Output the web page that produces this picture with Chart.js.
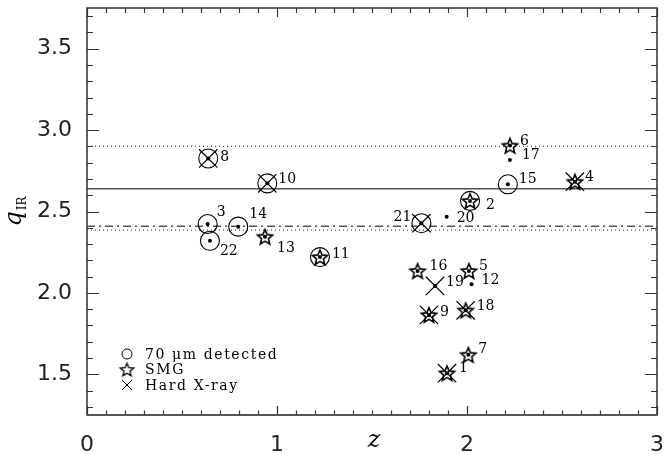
<!DOCTYPE html>
<html>
<head>
<meta charset="utf-8">
<script src="https://cdn.jsdelivr.net/npm/chart.js@4/dist/chart.umd.min.js"></script>
<style>
  html, body { margin: 0; padding: 0; background: #fff; }
  canvas { display: block; }
</style>
</head>
<body>
<canvas id="c" width="666" height="454"></canvas>
<script>
// ---- data ----
const sourceIds = [1, 2, 3, 4, 5, 6, 7, 8, 9, 10, 11, 12, 13, 14, 15, 16, 17, 18, 19, 20, 21, 22];
const redshift  = [1.895, 2.016, 0.635, 2.568, 2.010, 2.226, 2.007, 0.638, 1.800, 0.949, 1.226, 2.024, 0.937, 0.796, 2.215, 1.740, 2.226, 1.993, 1.832, 1.893, 1.760, 0.647];
const qIR       = [1.507, 2.565, 2.423, 2.683, 2.135, 2.905, 1.620, 2.826, 1.865, 2.673, 2.220, 2.053, 2.345, 2.407, 2.667, 2.135, 2.816, 1.893, 2.043, 2.468, 2.428, 2.320];
const detected70um = [0, 1, 1, 0, 0, 0, 0, 1, 0, 1, 1, 0, 0, 1, 1, 0, 0, 0, 0, 0, 1, 1];
const isSMG        = [1, 1, 0, 1, 1, 1, 1, 0, 1, 0, 1, 0, 1, 0, 0, 1, 0, 1, 0, 0, 0, 0];
const isHardXray   = [1, 0, 0, 1, 0, 0, 0, 1, 1, 1, 0, 0, 0, 0, 0, 0, 0, 1, 1, 0, 1, 0];
const refLineValues = [2.90, 2.64, 2.41, 2.385];
const xTickValues = [0, 1, 2, 3];
const yTickValues = [1.5, 2.0, 2.5, 3.0, 3.5];
const legendLabels = ["70 \u03bcm detected", "SMG", "Hard X-ray"];

// ---- styling (not data) ----
const labelOffsets = {
  1: [12, -5], 2: [16, 4], 3: [9, -12], 4: [10, -4], 5: [10, -5], 6: [10, -4],
  7: [10, -5], 8: [12, -1], 9: [11, -3], 10: [11, -4], 11: [12, -3], 12: [10, -4],
  13: [12, 12], 14: [11, -12], 15: [11, -5], 16: [12, -5], 17: [12, -5], 18: [11, -4],
  19: [11, -4], 20: [10, 2], 21: [-10, -6], 22: [10, 11]
};
const refLineStyles = [
  { dash: [1, 3], width: 1.2, color: '#555' },
  { dash: [], width: 1.5, color: '#555' },
  { dash: [8, 4, 2, 4], width: 1.5, color: '#555' },
  { dash: [1, 3], width: 1.2, color: '#555' }
];

function makeStar(outer, inner, lw) {
  const s = Math.ceil(outer * 2 + lw * 2 + 2);
  const c = document.createElement('canvas');
  c.width = s; c.height = s;
  const g = c.getContext('2d');
  g.translate(s / 2, s / 2 + outer * 0.1);
  g.beginPath();
  for (let k = 0; k < 10; k++) {
    const r = k % 2 === 0 ? outer : inner;
    const a = -Math.PI / 2 + k * Math.PI / 5;
    const px = r * Math.cos(a), py = r * Math.sin(a);
    if (k === 0) g.moveTo(px, py); else g.lineTo(px, py);
  }
  g.closePath();
  g.lineWidth = lw;
  g.strokeStyle = '#000';
  g.stroke();
  return c;
}
const starImg = makeStar(8, 3.6, 1.6);
const starLegendImg = makeStar(7, 3.1, 1.3);

function pts(filter) {
  const out = [];
  for (let i = 0; i < sourceIds.length; i++) {
    if (!filter || filter[i]) out.push({ x: redshift[i], y: qIR[i] });
  }
  return out;
}

const datasets = [
  { label: 'dot', data: pts(null), pointStyle: 'circle', pointRadius: 2,
    backgroundColor: '#000', borderColor: '#000', borderWidth: 0, showLine: false, order: 0 },
  { label: '70um', data: pts(detected70um), pointStyle: 'circle', pointRadius: 9.5,
    backgroundColor: 'rgba(0,0,0,0)', borderColor: '#000', borderWidth: 1.1, showLine: false, order: 1 },
  { label: 'SMG', data: pts(isSMG), pointStyle: starImg, pointRadius: 8,
    backgroundColor: '#000', borderColor: '#000', showLine: false, order: 1 },
  { label: 'X', data: pts(isHardXray), pointStyle: 'crossRot', pointRadius: 13,
    backgroundColor: '#000', borderColor: '#000', borderWidth: 1.2, showLine: false, order: 1 }
];
refLineValues.forEach((v, k) => {
  datasets.push({
    label: 'ref' + k, type: 'line',
    data: [{ x: 0, y: v }, { x: 3, y: v }],
    borderColor: refLineStyles[k].color, borderWidth: refLineStyles[k].width,
    borderDash: refLineStyles[k].dash, pointRadius: 0, fill: false, order: 5
  });
});

const decorPlugin = {
  id: 'decor',
  beforeDatasetsDraw(chart) {
    const ctx = chart.ctx, a = chart.chartArea;
    const xs = chart.scales.x, ys = chart.scales.y;
    ctx.save();
    ctx.strokeStyle = '#333';
    ctx.lineWidth = 1.2;
    for (let i = 0; i <= 30; i++) {
      const px = Math.round(xs.getPixelForValue(i / 10)) + 0.5;
      const major = i % 10 === 0;
      const lb = major ? 9 : 4.5, lt = major ? 9 : 5;
      ctx.beginPath();
      ctx.moveTo(px, a.bottom); ctx.lineTo(px, a.bottom - lb);
      ctx.moveTo(px, a.top); ctx.lineTo(px, a.top + lt);
      ctx.stroke();
    }
    for (let i = 13; i <= 37; i++) {
      const py = Math.round(ys.getPixelForValue(i / 10)) + 0.5;
      const major = i % 5 === 0;
      const l = major ? 12 : 6;
      ctx.beginPath();
      ctx.moveTo(a.left, py); ctx.lineTo(a.left + l, py);
      ctx.moveTo(a.right, py); ctx.lineTo(a.right - l, py);
      ctx.stroke();
    }
    ctx.restore();
  },
  afterDatasetsDraw(chart) {
    const ctx = chart.ctx, a = chart.chartArea;
    const xs = chart.scales.x, ys = chart.scales.y;
    ctx.save();
    ctx.strokeStyle = '#333';
    ctx.lineWidth = 1.5;
    ctx.strokeRect(a.left, a.top, a.right - a.left, a.bottom - a.top);
    ctx.strokeStyle = '#555';
    ctx.lineWidth = 2;
    ctx.beginPath(); ctx.moveTo(a.left, a.bottom); ctx.lineTo(a.right, a.bottom); ctx.stroke();

    ctx.fillStyle = '#000';
    ctx.font = '14px "DejaVu Serif"';
    ctx.textBaseline = 'middle';
    for (let i = 0; i < sourceIds.length; i++) {
      const id = sourceIds[i];
      const off = labelOffsets[id];
      const px = xs.getPixelForValue(redshift[i]) + off[0];
      const py = ys.getPixelForValue(qIR[i]) + off[1];
      ctx.textAlign = off[0] < 0 ? 'right' : 'left';
      ctx.fillText(String(id), px, py);
    }

    const lx = a.left + 40, ly0 = a.bottom - 61, dy = 15.5;
    ctx.strokeStyle = '#000';
    ctx.lineWidth = 1;
    ctx.beginPath(); ctx.arc(lx, ly0, 5, 0, Math.PI * 2); ctx.stroke();
    ctx.drawImage(starLegendImg, lx - starLegendImg.width / 2, ly0 + dy - starLegendImg.height / 2);
    ctx.beginPath();
    ctx.moveTo(lx - 5, ly0 + 2 * dy - 5); ctx.lineTo(lx + 5, ly0 + 2 * dy + 5);
    ctx.moveTo(lx + 5, ly0 + 2 * dy - 5); ctx.lineTo(lx - 5, ly0 + 2 * dy + 5);
    ctx.stroke();
    ctx.font = '14px "DejaVu Serif"';
    ctx.textAlign = 'left';
    try { ctx.letterSpacing = '1.6px'; } catch (e) {}
    legendLabels.forEach((t, k) => ctx.fillText(t, lx + 18, ly0 + k * dy + 1));
    try { ctx.letterSpacing = '0px'; } catch (e) {}

    ctx.textAlign = 'center';
    ctx.textBaseline = 'middle';
    ctx.font = 'italic 24px "DejaVu Serif"';
    ctx.fillText('z', (a.left + a.right) / 2 + 2, 441);

    ctx.translate(17, 212);
    ctx.rotate(-Math.PI / 2);
    ctx.textAlign = 'left';
    ctx.font = 'italic 24px "DejaVu Serif"';
    const qw = ctx.measureText('q').width;
    const sub = 'IR';
    ctx.font = '12px "DejaVu Serif"';
    const sw = ctx.measureText(sub).width;
    const startX = -(qw + sw) / 2;
    ctx.font = 'italic 24px "DejaVu Serif"';
    ctx.fillText('q', startX, -2);
    ctx.font = '12px "DejaVu Serif"';
    ctx.fillText(sub, startX + qw + 1, 6);
    ctx.restore();
  }
};

function zeroPad(s) { s.paddingTop = 0; s.paddingBottom = 0; s.paddingLeft = 0; s.paddingRight = 0; }

new Chart(document.getElementById('c'), {
  type: 'scatter',
  data: { datasets },
  options: {
    responsive: false,
    devicePixelRatio: 1,
    animation: false,
    layout: { autoPadding: false, padding: { top: 8, right: 9, left: 0, bottom: 0 } },
    plugins: { legend: { display: false }, tooltip: { enabled: false } },
    scales: {
      x: {
        type: 'linear', min: 0, max: 3,
        afterBuildTicks: s => { s.ticks = xTickValues.map(v => ({ value: v })); },
        ticks: { font: { family: 'DejaVu Sans', size: 22 }, color: '#222', padding: 17,
                 callback: v => String(v), maxRotation: 0 },
        grid: { display: false, drawTicks: false },
        border: { display: false },
        afterFit: s => { s.height = 39; zeroPad(s); }
      },
      y: {
        type: 'linear', min: 1.25, max: 3.75,
        afterBuildTicks: s => { s.ticks = yTickValues.map(v => ({ value: v })); },
        ticks: { font: { family: 'DejaVu Sans', size: 22 }, color: '#222', padding: 15,
                 callback: v => Number(v).toFixed(1) },
        grid: { display: false, drawTicks: false },
        border: { display: false },
        afterFit: s => { s.width = 87; zeroPad(s); }
      }
    }
  },
  plugins: [decorPlugin]
});
</script>
</body>
</html>
